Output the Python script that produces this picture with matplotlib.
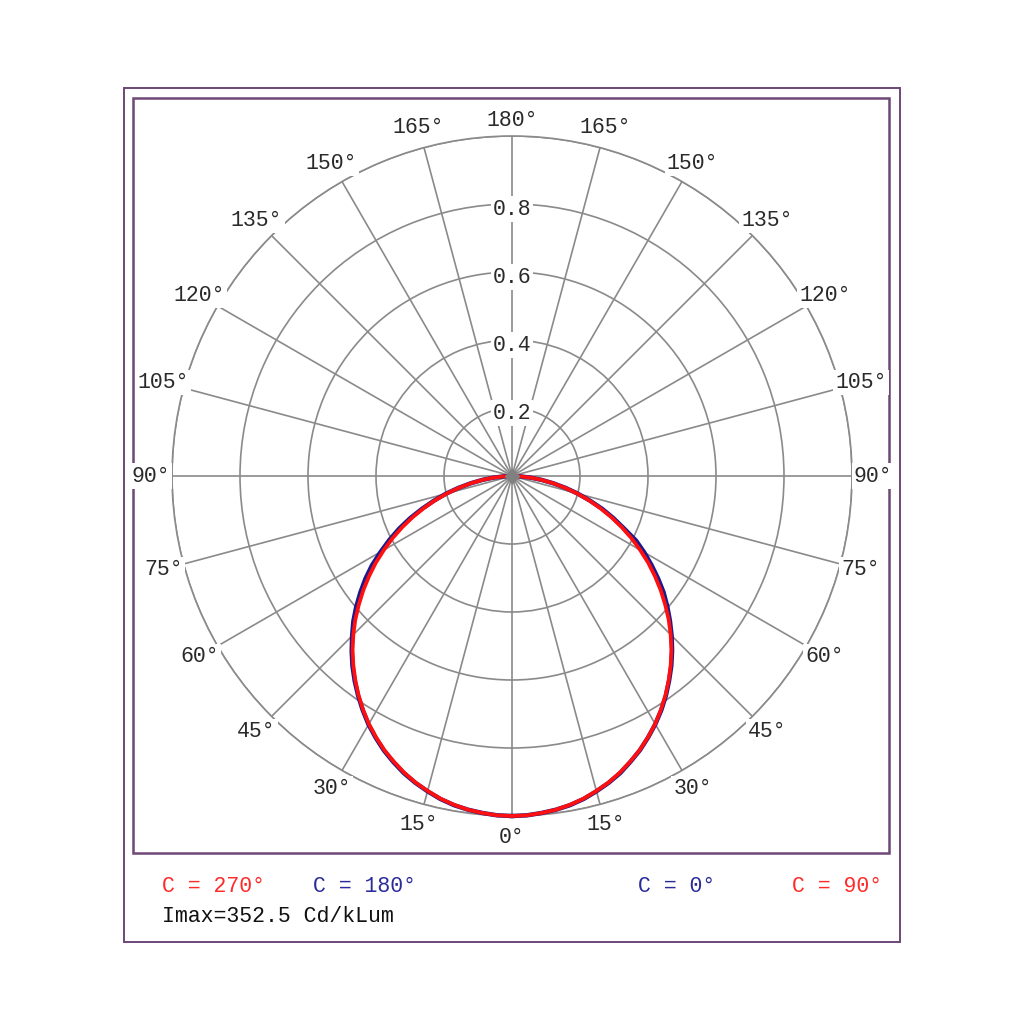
import matplotlib
matplotlib.use("Agg")
import matplotlib.pyplot as plt
import numpy as np
from matplotlib.patches import Rectangle

# ---- data (gamma angle in degrees, relative intensity) ----
gamma = [0, 2.5, 5, 7.5, 10, 12.5, 15, 17.5, 20, 22.5, 25, 27.5, 30, 32.5, 35, 37.5,
         40, 42.5, 45, 47.5, 50, 52.5, 55, 57.5, 60, 62.5, 65, 67.5, 70, 72.5, 75,
         77.5, 80, 82.5, 85, 87.5, 90]
c90 = [1.000, 0.999, 0.995, 0.990, 0.982, 0.972, 0.959, 0.945, 0.928, 0.909, 0.889,
       0.866, 0.842, 0.815, 0.787, 0.757, 0.726, 0.694, 0.660, 0.625, 0.588, 0.551,
       0.513, 0.475, 0.435, 0.396, 0.356, 0.316, 0.276, 0.237, 0.198, 0.159, 0.122,
       0.087, 0.054, 0.023, 0.0]
c270 = [1.000, 0.999, 0.995, 0.990, 0.982, 0.972, 0.959, 0.945, 0.928, 0.909, 0.889,
        0.866, 0.842, 0.815, 0.787, 0.757, 0.726, 0.694, 0.660, 0.625, 0.588, 0.551,
        0.513, 0.475, 0.435, 0.396, 0.356, 0.316, 0.276, 0.237, 0.198, 0.159, 0.122,
        0.087, 0.054, 0.023, 0.0]
c0 = [1.000, 0.999, 0.995, 0.990, 0.983, 0.973, 0.960, 0.946, 0.930, 0.910, 0.890,
      0.867, 0.843, 0.817, 0.789, 0.759, 0.729, 0.697, 0.664, 0.630, 0.596, 0.562,
      0.524, 0.486, 0.449, 0.411, 0.362, 0.322, 0.282, 0.240, 0.200, 0.161, 0.123,
      0.088, 0.055, 0.023, 0.0]
c180 = [1.000, 0.999, 0.995, 0.990, 0.983, 0.973, 0.960, 0.946, 0.930, 0.911, 0.891,
        0.868, 0.844, 0.817, 0.789, 0.760, 0.730, 0.698, 0.665, 0.633, 0.598, 0.562,
        0.526, 0.488, 0.446, 0.406, 0.366, 0.324, 0.281, 0.240, 0.201, 0.161, 0.123,
        0.088, 0.055, 0.023, 0.0]
ring_values = [0.2, 0.4, 0.6, 0.8]
angle_ticks = [0, 15, 30, 45, 60, 75, 90, 105, 120, 135, 150, 165, 180]
legend_left = [("C = 270°", "#ff2a2a"), ("C = 180°", "#2b2b9c")]
legend_right = [("C = 0°", "#2b2b9c"), ("C = 90°", "#ff2a2a")]
imax_text = "Imax=352.5 Cd/kLum"

FONT = "Liberation Mono"
FS = 15.5
GRID = "#8a8a8a"
FRAME = "#6e4677"
TXT = "#2a2a2a"

W = H = 1024
fig = plt.figure(figsize=(W / 100, H / 100), dpi=100)
fig.patch.set_facecolor("white")

def fx(px):
    return px / W

def fy(py):
    return 1 - py / H

# frames
fig.add_artist(Rectangle((fx(124), fy(942)), fx(900) - fx(124), fy(88) - fy(942),
                         transform=fig.transFigure, fill=False, ec=FRAME, lw=1.4, zorder=-2))
fig.add_artist(Rectangle((fx(133), fy(853)), fx(889) - fx(133), fy(98) - fy(853),
                         transform=fig.transFigure, fill=False, ec=FRAME, lw=1.8, zorder=-2))

cx, cy, R = 512, 476, 340
ax = fig.add_axes([fx(cx - R), fy(cy + R), 2 * R / W, 2 * R / H], projection="polar")
ax.set_facecolor("none")
ax.set_theta_zero_location("S")
ax.set_theta_direction(1)
ax.set_ylim(0, 1)
ax.set_rgrids([0.2, 0.4, 0.6, 0.8, 1.0], labels=[""] * 5)
ax.set_thetagrids(np.arange(0, 360, 15), labels=[""] * 24)
ax.grid(True, color=GRID, lw=1.2)
ax.spines["polar"].set_color(GRID)
ax.spines["polar"].set_linewidth(1.2)
ax.tick_params(pad=0)

g = np.radians(np.array(gamma))
# left side: C=180 (blue), C=270 (red); right side: C=0 (blue), C=90 (red)
ax.plot(-g, c180, color="#1a1a8c", lw=3.2, zorder=4, clip_on=False)
ax.plot(g, c0, color="#1a1a8c", lw=3.2, zorder=4, clip_on=False)
ax.plot(-g, c270, color="#ff1010", lw=2.7, zorder=5, clip_on=False)
ax.plot(g, c90, color="#ff1010", lw=2.7, zorder=5, clip_on=False)
ax.plot([0], [0], marker="D", ms=7, color="#808080", zorder=6, clip_on=False)

bb = dict(boxstyle="square,pad=0.1", fc="white", ec="none")
for v in ring_values:
    ax.text(np.pi, v - 0.015, f"{v:.1f}", ha="center", va="center", family=FONT,
            fontsize=FS, color=TXT, bbox=bb, zorder=7)

for a in angle_ticks:
    lab = f"{a}°"
    thetas = [a] if a in (0, 180) else [a, -a]
    for t in thetas:
        r = 1.045 if a == 180 else 1.062
        ax.text(np.radians(t), r, lab, ha="center", va="center", family=FONT,
                fontsize=FS, color=TXT, bbox=bb, zorder=7, clip_on=False)

# legend texts
fig.text(fx(162), fy(887), legend_left[0][0], color=legend_left[0][1], family=FONT,
         fontsize=FS, ha="left", va="center")
fig.text(fx(313), fy(887), legend_left[1][0], color=legend_left[1][1], family=FONT,
         fontsize=FS, ha="left", va="center")
fig.text(fx(715), fy(887), legend_right[0][0], color=legend_right[0][1], family=FONT,
         fontsize=FS, ha="right", va="center")
fig.text(fx(882), fy(887), legend_right[1][0], color=legend_right[1][1], family=FONT,
         fontsize=FS, ha="right", va="center")
fig.text(fx(162), fy(916), imax_text, color="#111111", family=FONT,
         fontsize=FS, ha="left", va="center")

fig.savefig("out.png", dpi=100, facecolor="white")
